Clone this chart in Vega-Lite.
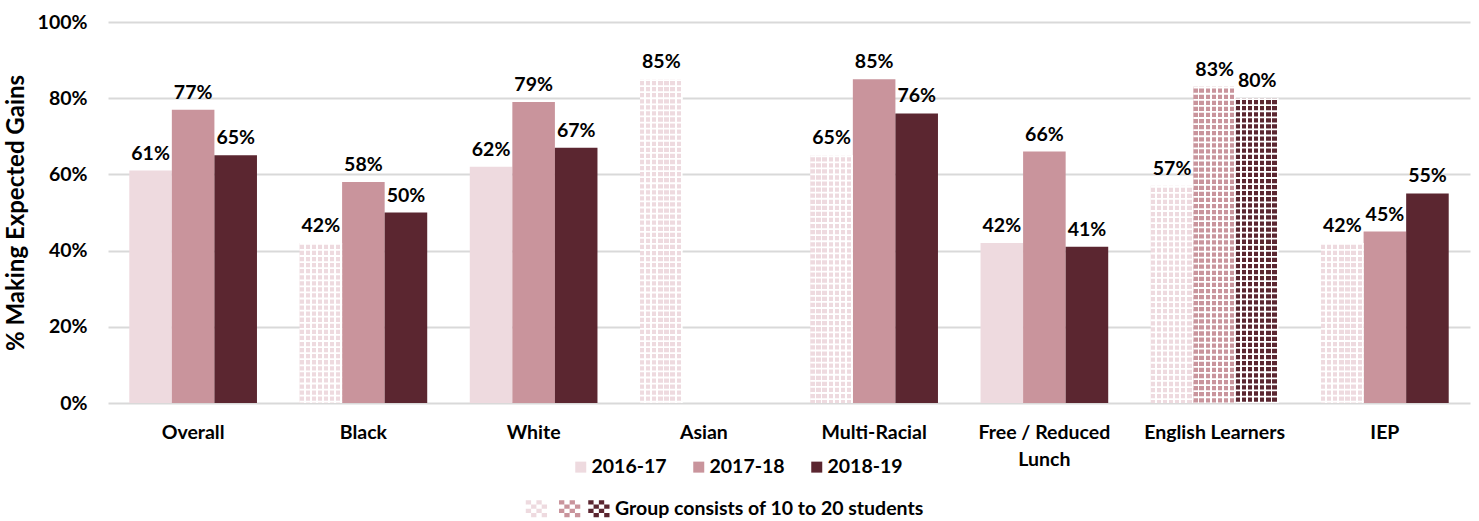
{
  "$schema": "https://vega.github.io/schema/vega-lite/v6.json",
  "width": 1362,
  "height": 381,
  "autosize": {"type": "none"},
  "padding": {"left": 108, "top": 22, "right": 9, "bottom": 118},
  "background": "white",
  "config": {
    "view": {"stroke": null},
    "font": "Lato",
    "axis": {"labelFont": "Lato", "labelFontWeight": "bold", "labelFontSize": 19.5, "labelColor": "#000000", "titleFont": "Lato", "titleFontWeight": "bold", "titleColor": "#000000"},
    "legend": {"labelFont": "Lato", "labelFontWeight": "bold", "labelFontSize": 19.5, "labelColor": "#000000"}
  },
  "data": {
    "values": [
      {"group": "Overall", "year": "2016-17", "value": 0.61, "small": false},
      {"group": "Overall", "year": "2017-18", "value": 0.77, "small": false},
      {"group": "Overall", "year": "2018-19", "value": 0.65, "small": false},
      {"group": "Black", "year": "2016-17", "value": 0.42, "small": true},
      {"group": "Black", "year": "2017-18", "value": 0.58, "small": false},
      {"group": "Black", "year": "2018-19", "value": 0.50, "small": false},
      {"group": "White", "year": "2016-17", "value": 0.62, "small": false},
      {"group": "White", "year": "2017-18", "value": 0.79, "small": false},
      {"group": "White", "year": "2018-19", "value": 0.67, "small": false},
      {"group": "Asian", "year": "2016-17", "value": 0.85, "small": true},
      {"group": "Multi-Racial", "year": "2016-17", "value": 0.65, "small": true},
      {"group": "Multi-Racial", "year": "2017-18", "value": 0.85, "small": false},
      {"group": "Multi-Racial", "year": "2018-19", "value": 0.76, "small": false},
      {"group": "Free / Reduced Lunch", "year": "2016-17", "value": 0.42, "small": false},
      {"group": "Free / Reduced Lunch", "year": "2017-18", "value": 0.66, "small": false},
      {"group": "Free / Reduced Lunch", "year": "2018-19", "value": 0.41, "small": false},
      {"group": "English Learners", "year": "2016-17", "value": 0.57, "small": true},
      {"group": "English Learners", "year": "2017-18", "value": 0.83, "small": true},
      {"group": "English Learners", "year": "2018-19", "value": 0.80, "small": true},
      {"group": "IEP", "year": "2016-17", "value": 0.42, "small": true},
      {"group": "IEP", "year": "2017-18", "value": 0.45, "small": false},
      {"group": "IEP", "year": "2018-19", "value": 0.55, "small": false}
    ]
  },
  "encoding": {
    "x": {
      "field": "group",
      "type": "nominal",
      "sort": ["Overall", "Black", "White", "Asian", "Multi-Racial", "Free / Reduced Lunch", "English Learners", "IEP"],
      "scale": {"paddingInner": 0.25, "paddingOuter": 0.125},
      "axis": {
        "title": null,
        "domain": false,
        "ticks": false,
        "labelAngle": 0,
        "labelPadding": 20,
        "labelLineHeight": 27,
        "labelBaseline": "top",
        "labelLimit": 300,
        "labelExpr": "datum.value == 'Free / Reduced Lunch' ? ['Free / Reduced', 'Lunch'] : datum.value"
      }
    },
    "xOffset": {
      "field": "year",
      "type": "nominal",
      "sort": ["2016-17", "2017-18", "2018-19"],
      "scale": {"domain": ["2016-17", "2017-18", "2018-19"], "paddingInner": 0, "paddingOuter": 0}
    },
    "y": {
      "field": "value",
      "type": "quantitative",
      "scale": {"domain": [0, 1], "nice": false},
      "axis": {
        "title": "% Making Expected Gains",
        "titleFontSize": 24,
        "titlePadding": 9,
        "format": ".0%",
        "values": [0, 0.2, 0.4, 0.6, 0.8, 1],
        "domain": false,
        "ticks": false,
        "labelPadding": 21,
        "grid": true,
        "gridColor": "#d9d9d9",
        "gridWidth": 2
      }
    }
  },
  "layer": [
    {
      "transform": [{"filter": "!datum.small"}],
      "mark": {"type": "bar"},
      "encoding": {
        "color": {
          "field": "year",
          "type": "nominal",
          "scale": {"domain": ["2016-17", "2017-18", "2018-19"], "range": ["#eedadf", "#c9949c", "#5b2630"]},
          "legend": {
            "title": null,
            "orient": "none",
            "legendX": 463,
            "legendY": 435,
            "direction": "horizontal",
            "symbolType": "square",
            "symbolSize": 121,
            "symbolStrokeWidth": 0,
            "labelOffset": 1,
            "columnPadding": 22,
            "padding": 0
          }
        }
      }
    },
    {
      "transform": [{"filter": "datum.small && datum.year == '2016-17'"}],
      "mark": {"type": "bar", "fill": {"gradient": "linear", "x1": 0, "y1": 0, "x2": 1, "y2": 0, "stops": [
        {"offset": 0, "color": "#eedadf"}, {"offset": 0.1, "color": "#eedadf"}, {"offset": 0.1, "color": "#ffffff"}, {"offset": 0.142857, "color": "#ffffff"},
        {"offset": 0.142857, "color": "#eedadf"}, {"offset": 0.242857, "color": "#eedadf"}, {"offset": 0.242857, "color": "#ffffff"}, {"offset": 0.285714, "color": "#ffffff"},
        {"offset": 0.285714, "color": "#eedadf"}, {"offset": 0.385714, "color": "#eedadf"}, {"offset": 0.385714, "color": "#ffffff"}, {"offset": 0.428571, "color": "#ffffff"},
        {"offset": 0.428571, "color": "#eedadf"}, {"offset": 0.528571, "color": "#eedadf"}, {"offset": 0.528571, "color": "#ffffff"}, {"offset": 0.571429, "color": "#ffffff"},
        {"offset": 0.571429, "color": "#eedadf"}, {"offset": 0.671429, "color": "#eedadf"}, {"offset": 0.671429, "color": "#ffffff"}, {"offset": 0.714286, "color": "#ffffff"},
        {"offset": 0.714286, "color": "#eedadf"}, {"offset": 0.814286, "color": "#eedadf"}, {"offset": 0.814286, "color": "#ffffff"}, {"offset": 0.857143, "color": "#ffffff"},
        {"offset": 0.857143, "color": "#eedadf"}, {"offset": 0.957143, "color": "#eedadf"}, {"offset": 0.957143, "color": "#ffffff"}, {"offset": 1, "color": "#ffffff"}
      ]}}
    },
    {
      "transform": [{"filter": "datum.small && datum.year == '2017-18'"}],
      "mark": {"type": "bar", "fill": {"gradient": "linear", "x1": 0, "y1": 0, "x2": 1, "y2": 0, "stops": [
        {"offset": 0, "color": "#c9949c"}, {"offset": 0.1, "color": "#c9949c"}, {"offset": 0.1, "color": "#ffffff"}, {"offset": 0.142857, "color": "#ffffff"},
        {"offset": 0.142857, "color": "#c9949c"}, {"offset": 0.242857, "color": "#c9949c"}, {"offset": 0.242857, "color": "#ffffff"}, {"offset": 0.285714, "color": "#ffffff"},
        {"offset": 0.285714, "color": "#c9949c"}, {"offset": 0.385714, "color": "#c9949c"}, {"offset": 0.385714, "color": "#ffffff"}, {"offset": 0.428571, "color": "#ffffff"},
        {"offset": 0.428571, "color": "#c9949c"}, {"offset": 0.528571, "color": "#c9949c"}, {"offset": 0.528571, "color": "#ffffff"}, {"offset": 0.571429, "color": "#ffffff"},
        {"offset": 0.571429, "color": "#c9949c"}, {"offset": 0.671429, "color": "#c9949c"}, {"offset": 0.671429, "color": "#ffffff"}, {"offset": 0.714286, "color": "#ffffff"},
        {"offset": 0.714286, "color": "#c9949c"}, {"offset": 0.814286, "color": "#c9949c"}, {"offset": 0.814286, "color": "#ffffff"}, {"offset": 0.857143, "color": "#ffffff"},
        {"offset": 0.857143, "color": "#c9949c"}, {"offset": 0.957143, "color": "#c9949c"}, {"offset": 0.957143, "color": "#ffffff"}, {"offset": 1, "color": "#ffffff"}
      ]}}
    },
    {
      "transform": [{"filter": "datum.small && datum.year == '2018-19'"}],
      "mark": {"type": "bar", "fill": {"gradient": "linear", "x1": 0, "y1": 0, "x2": 1, "y2": 0, "stops": [
        {"offset": 0, "color": "#5b2630"}, {"offset": 0.1, "color": "#5b2630"}, {"offset": 0.1, "color": "#ffffff"}, {"offset": 0.142857, "color": "#ffffff"},
        {"offset": 0.142857, "color": "#5b2630"}, {"offset": 0.242857, "color": "#5b2630"}, {"offset": 0.242857, "color": "#ffffff"}, {"offset": 0.285714, "color": "#ffffff"},
        {"offset": 0.285714, "color": "#5b2630"}, {"offset": 0.385714, "color": "#5b2630"}, {"offset": 0.385714, "color": "#ffffff"}, {"offset": 0.428571, "color": "#ffffff"},
        {"offset": 0.428571, "color": "#5b2630"}, {"offset": 0.528571, "color": "#5b2630"}, {"offset": 0.528571, "color": "#ffffff"}, {"offset": 0.571429, "color": "#ffffff"},
        {"offset": 0.571429, "color": "#5b2630"}, {"offset": 0.671429, "color": "#5b2630"}, {"offset": 0.671429, "color": "#ffffff"}, {"offset": 0.714286, "color": "#ffffff"},
        {"offset": 0.714286, "color": "#5b2630"}, {"offset": 0.814286, "color": "#5b2630"}, {"offset": 0.814286, "color": "#ffffff"}, {"offset": 0.857143, "color": "#ffffff"},
        {"offset": 0.857143, "color": "#5b2630"}, {"offset": 0.957143, "color": "#5b2630"}, {"offset": 0.957143, "color": "#ffffff"}, {"offset": 1, "color": "#ffffff"}
      ]}}
    },
    {
      "transform": [{"filter": "datum.small"}],
      "mark": {"type": "rule", "color": "#ffffff", "strokeWidth": 42.56, "strokeCap": "butt", "strokeDash": [1.8, 4.27]},
      "encoding": {"y2": {"datum": 0}}
    },
    {
      "transform": [{"filter": "datum.small"}],
      "mark": {
        "type": "point",
        "filled": true,
        "opacity": 0,
        "fill": {"gradient": "linear", "x1": 0, "y1": 0, "x2": 1, "y2": 0, "stops": [
          {"offset": 0, "color": "#eedadf"}, {"offset": 0.32, "color": "#eedadf"}, {"offset": 0.32, "color": "#c9949c"}, {"offset": 0.70, "color": "#c9949c"}, {"offset": 0.70, "color": "#5b2630"}, {"offset": 1, "color": "#5b2630"}
        ]}
      },
      "encoding": {
        "shape": {
          "datum": "Group consists of 10 to 20 students",
          "type": "nominal",
          "scale": {"range": ["M-18.7 -2h1.25v1h-1.25zM-16.2 -2h1.25v1h-1.25zM-17.45 -1h1.25v1h-1.25zM-14.95 -1h1.25v1h-1.25zM-18.7 0h1.25v1h-1.25zM-16.2 0h1.25v1h-1.25zM-17.45 1h1.25v1h-1.25zM-14.95 1h1.25v1h-1.25zM-10.88 -2h1.25v1h-1.25zM-8.38 -2h1.25v1h-1.25zM-9.63 -1h1.25v1h-1.25zM-7.13 -1h1.25v1h-1.25zM-10.88 0h1.25v1h-1.25zM-8.38 0h1.25v1h-1.25zM-9.63 1h1.25v1h-1.25zM-7.13 1h1.25v1h-1.25zM-4 -2h1.25v1h-1.25zM-1.5 -2h1.25v1h-1.25zM-2.75 -1h1.25v1h-1.25zM-0.25 -1h1.25v1h-1.25zM-4 0h1.25v1h-1.25zM-1.5 0h1.25v1h-1.25zM-2.75 1h1.25v1h-1.25zM-0.25 1h1.25v1h-1.25z"]},
          "legend": {
            "title": null,
            "orient": "none",
            "legendX": 487.5,
            "legendY": 477,
            "symbolSize": 72.25,
            "symbolOpacity": 1,
            "symbolStrokeWidth": 0,
            "labelOffset": 0,
            "padding": 0,
            "labelLimit": 500
          }
        }
      }
    },
    {
      "mark": {"type": "text", "baseline": "alphabetic", "dy": -11, "fontSize": 19.5, "fontWeight": "bold", "font": "Lato", "color": "#000000"},
      "encoding": {"text": {"field": "value", "type": "quantitative", "format": ".0%"}}
    }
  ]
}
